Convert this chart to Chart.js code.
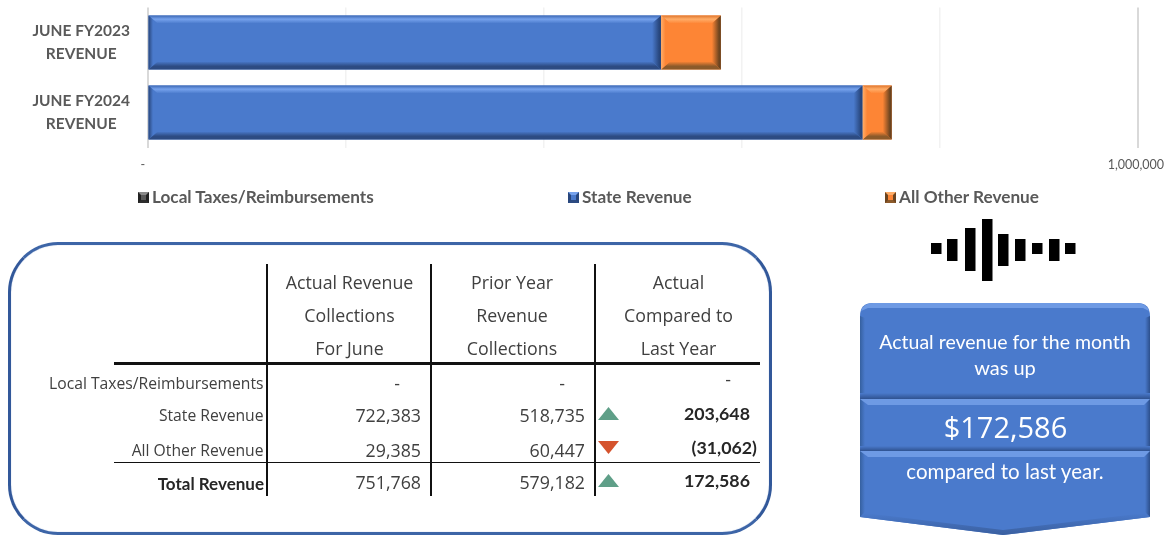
<!DOCTYPE html>
<html>
<head>
<meta charset="utf-8">
<script src="https://cdn.jsdelivr.net/npm/chart.js@4"></script>
<style>
html,body{margin:0;padding:0;background:#fff;overflow:hidden}
#stage{position:relative;width:1168px;height:536px;overflow:hidden}
#c{position:absolute;left:0;top:0}
.t{position:absolute;white-space:nowrap;line-height:1;transform:translateY(-50%)}
.r{transform:translate(-100%,-50%)}
.m{transform:translate(-50%,-50%)}
.o{font-family:"Open Sans",sans-serif;color:#404040;font-size:17.8px}
.lab{font-size:15.7px}
.b{font-family:Lato,sans-serif;font-weight:700;color:#262626;font-size:17.8px}
.tot{font-size:17px}
.leg{font-family:Lato,sans-serif;font-weight:700;color:#595959;font-size:17.2px}
.sw{position:absolute;width:11px;height:11px;box-sizing:border-box;border-style:solid;border-width:3px}
.ln{position:absolute;background:#111}
#panel{position:absolute;left:8px;top:242px;width:758px;height:287px;border:3px solid #3d65a7;border-radius:50px;border-left-color:#32589a;border-right-color:#32589a;box-shadow:inset 0 0 1px #8aa5d4}
#overlay{position:absolute;left:0;top:0;width:1168px;height:536px;pointer-events:none}
</style>
</head>
<body>
<div id="stage">
  <canvas id="c" width="1168" height="190" style="width:1168px;height:190px"></canvas>
  <div id="panel"></div>
  <svg id="overlay" viewBox="0 0 1168 536">
    <defs>
      <linearGradient id="edgeL" x1="0" x2="1" y1="0" y2="0"><stop offset="0" stop-color="#35609f"/><stop offset="1" stop-color="#4a7acc"/></linearGradient>
      <linearGradient id="edgeR" x1="0" x2="1" y1="0" y2="0"><stop offset="0" stop-color="#4a7acc"/><stop offset="1" stop-color="#2c4f8c"/></linearGradient>
      <linearGradient id="lo" x1="0" x2="0" y1="0" y2="1"><stop offset="0" stop-color="#4a7acc"/><stop offset="1" stop-color="#2f5290"/></linearGradient>
      <linearGradient id="tipG" x1="0" x2="0" y1="0" y2="1"><stop offset="0" stop-color="#4a7acc"/><stop offset="1" stop-color="#3a5f9f"/></linearGradient>
    </defs>
    <path id="callout" d="M873 303H1137Q1150 303 1150 316V517L1003 535L860 517V316Q860 303 873 303Z" fill="#4a7acc"/>
    <path d="M860 316V517L865 512V318Z" fill="url(#edgeL)"/>
    <path d="M1150 316V517L1145 512V318Z" fill="url(#edgeR)"/>
    <path d="M873 303H1137Q1146 303 1149 311L1143 308H868L861 311Q864 303 873 303Z" fill="#6e9ae4"/>
    <path d="M860 517L1003 535L1150 517L1145 513L1003 530L865 513Z" fill="url(#tipG)"/>
    <rect x="860" y="393" width="290" height="6" fill="url(#lo)"/>
    <path d="M860 399H1150L1144 405H868Z" fill="#6e9ae4"/>
    <rect x="860" y="446" width="290" height="5" fill="url(#lo)"/>
    <path d="M860 451H1150L1144 457H868Z" fill="#6e9ae4"/>
  </svg>
</div>
<script>
const categories = [['JUNE FY2023','REVENUE'],['JUNE FY2024','REVENUE']];
const seriesNames = ['Local Taxes/Reimbursements','State Revenue','All Other Revenue'];
const localTaxes = [0,0];
const stateRevenue = [518735,722383];
const otherRevenue = [60447,29385];
const axisMax = 1000000;
const axisStep = 200000;
const rowLabels = ['Local Taxes/Reimbursements','State Revenue','All Other Revenue','Total Revenue'];
const actualCol = ['-','722,383','29,385','751,768'];
const priorCol = ['-','518,735','60,447','579,182'];
const diffCol = ['-','203,648','(31,062)','172,586'];
const diffDir = ['', 'up', 'down', 'up'];
const headA = ['Actual Revenue','Collections','For June'];
const headB = ['Prior Year','Revenue','Collections'];
const headC = ['Actual','Compared to','Last Year'];
const waveTops = [243,239,228,219,234,239,243,239,243];
const waveBots = [254,261,271,281,266,261,254,261,254];
const waveLeft = [931,947,965,982,998,1015,1032,1049,1065];

const COL = {
  local:{fill:'#5a5a5a',hi:'#8a8a8a',lo:'#2e2e2e',side:'#222222'},
  state:{fill:'#4a7acc',hi:'#76a2ec',lo:'#2d4b82',side:'#28467c',top:'#3d69b6'},
  other:{fill:'#fd8535',hi:'#ffad68',lo:'#8c5a2a',side:'#6b4420',top:'#e0772e'}
};
const keys = ['local','state','other'];

const bevelPlugin = {
  id:'bevel',
  afterDatasetsDraw(chart){
    const ctx = chart.ctx;
    chart.data.datasets.forEach((ds,di)=>{
      const c = COL[keys[di]];
      chart.getDatasetMeta(di).data.forEach(el=>{
        const p = el.getProps(['x','y','base','height'],true);
        const l=p.base, r=p.x, t=p.y-p.height/2, b=p.y+p.height/2;
        if(r-l<1) return;
        const bw=9, bh=8;
        const poly=(pts,col)=>{ctx.beginPath();pts.forEach((q,i)=>i?ctx.lineTo(q[0],q[1]):ctx.moveTo(q[0],q[1]));ctx.closePath();ctx.fillStyle=col;ctx.fill();};
        let g=ctx.createLinearGradient(0,t,0,t+bh);
        g.addColorStop(0,c.top);g.addColorStop(.45,c.hi);g.addColorStop(1,c.fill);
        poly([[l,t],[r,t],[r-bw,t+bh],[l+bw,t+bh]],g);
        g=ctx.createLinearGradient(0,b-bh,0,b);
        g.addColorStop(0,c.fill);g.addColorStop(.6,c.lo);g.addColorStop(1,c.lo);
        poly([[l,b],[r,b],[r-bw,b-bh],[l+bw,b-bh]],g);
        g=ctx.createLinearGradient(r-bw,0,r,0);
        g.addColorStop(0,c.fill);g.addColorStop(.8,c.side);g.addColorStop(1,c.side);
        poly([[r,t],[r,b],[r-bw,b-bh],[r-bw,t+bh]],g);
        g=ctx.createLinearGradient(l,0,l+bw,0);
        g.addColorStop(0,di===2?c.hi:c.side);g.addColorStop(.5,c.fill);g.addColorStop(1,c.fill);
        poly([[l,t],[l,b],[l+bw,b-bh],[l+bw,t+bh]],g);
      });
    });
  }
};

const makeDs=(label,data,k)=>({label,data,backgroundColor:COL[k].fill,borderWidth:0,barPercentage:0.77,categoryPercentage:1,stack:'s'});

const chart = new Chart(document.getElementById('c').getContext('2d'),{
  type:'bar',
  data:{labels:categories,datasets:[
    makeDs(seriesNames[0],localTaxes,'local'),
    makeDs(seriesNames[1],stateRevenue,'state'),
    makeDs(seriesNames[2],otherRevenue,'other')
  ]},
  plugins:[bevelPlugin],
  options:{
    indexAxis:'y',responsive:false,animation:false,devicePixelRatio:1,
    layout:{padding:{left:0,right:30.5,top:7.5,bottom:0}},
    plugins:{legend:{display:false},tooltip:{enabled:false},title:{display:false}},
    scales:{
      x:{
        stacked:true,min:0,max:axisMax,
        afterFit(a){a.height=42.5;a.paddingLeft=0;a.paddingRight=0;},
        ticks:{stepSize:axisStep,maxRotation:0,autoSkip:false,padding:10,color:'#595959',
          font:{family:'Lato, sans-serif',size:12.5},
          callback(v){return v===0?'-   ':(v===axisMax?'1,000,000 ':'');}},
        grid:{drawTicks:false,lineWidth:ctx=>(ctx.tick&&(ctx.tick.value===0||ctx.tick.value===axisMax))?2:1.5,
          color:ctx=>(ctx.tick&&(ctx.tick.value===0||ctx.tick.value===axisMax))?'#d9d9d9':'#f2f2f2'},
        border:{display:false}
      },
      y:{
        stacked:true,
        afterFit(a){a.width=147.5;a.paddingTop=0;a.paddingBottom=0;},
        ticks:{crossAlign:'center',padding:17.5,color:'#595959',font:{family:'Lato, sans-serif',size:15.5,weight:'700',lineHeight:1.45}},
        grid:{display:false,drawTicks:false},
        border:{display:false}
      }
    }
  }
});

const stage=document.getElementById('stage');
function txt(s,x,y,cls){const d=document.createElement('div');d.className='t '+cls;d.textContent=s;d.style.left=x+'px';d.style.top=y+'px';stage.appendChild(d);return d;}
function line(x,y,w,h){const d=document.createElement('div');d.className='ln';d.style.cssText+=`left:${x}px;top:${y}px;width:${w}px;height:${h}px`;stage.appendChild(d);}

const legendX=[138,568,885];
chart.data.datasets.forEach((ds,i)=>{
  const k=COL[keys[i]];
  const s=document.createElement('div');s.className='sw';
  s.style.cssText+=`left:${legendX[i]}px;top:192px;background:${k.fill};border-color:${k.hi} ${k.side} ${k.lo} ${k.side}`;
  stage.appendChild(s);
  txt(ds.label,legendX[i]+14,197.2,'leg');
});

const headY=[283,316,349];
[[headA,349.5],[headB,512],[headC,678.5]].forEach(([h,x])=>h.forEach((s,i)=>txt(s,x,headY[i],'o m')));
const rowY=[383.5,416,451,483];
rowLabels.forEach((s,i)=>{ i===3?txt(s,264,rowY[i],'b tot r'):txt(s,263.5,rowY[i],'o lab r'); });
actualCol.forEach((s,i)=>{ i===0?txt(s,397,rowY[i],'o m'):txt(s,421,rowY[i],'o r'); });
priorCol.forEach((s,i)=>{ i===0?txt(s,562,rowY[i],'o m'):txt(s,585,rowY[i],'o r'); });
const diffY=[380,413.5,447.5,480.5], diffR=[731,750,757,750];
diffCol.forEach((s,i)=>{ txt(s,diffR[i],diffY[i],i===0?'o r':'b r'); });
line(266,264,2,232);line(430,264,2,232);line(594,264,2,232);
line(114,362,646,2.5);line(114,461.5,646,1.5);

const NS='http://www.w3.org/2000/svg', svg=document.getElementById('overlay');
function add(tag,attrs,text){const e=document.createElementNS(NS,tag);for(const a in attrs)e.setAttribute(a,attrs[a]);if(text)e.textContent=text;svg.appendChild(e);}
const triTop=[0,407,441,474];
diffDir.forEach((d,i)=>{
  if(d==='up')add('path',{d:`M598 ${triTop[i]+13}L608.5 ${triTop[i]}L619 ${triTop[i]+13}Z`,fill:'#5f9f88'});
  if(d==='down')add('path',{d:`M598 ${triTop[i]}H619L608.5 ${triTop[i]+13}Z`,fill:'#d5532d'});
});
waveLeft.forEach((x,i)=>add('rect',{x,y:waveTops[i],width:10.5,height:waveBots[i]-waveTops[i],fill:'#000'}));
const ct={fill:'#fff','font-family':'Lato, sans-serif','text-anchor':'middle'};
add('text',{...ct,x:1005,y:349,'font-size':19.5},'Actual revenue for the month');
add('text',{...ct,x:1005,y:375,'font-size':20},'was up');
add('text',{...ct,x:1005.5,y:438,'font-size':29,'font-family':'"Open Sans", sans-serif'},'$172,586');
add('text',{...ct,x:1005,y:479,'font-size':20.5},'compared to last year.');
</script>
</body>
</html>
